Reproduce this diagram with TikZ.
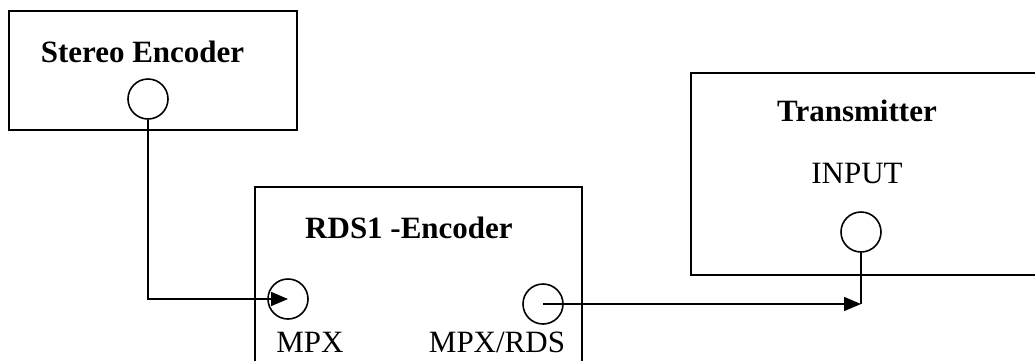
\documentclass[tikz,border=0pt]{standalone}
\usepackage{fontspec}
\setmainfont{Liberation Serif}
\usetikzlibrary{arrows.meta}
\begin{document}
\begin{tikzpicture}[x=0.5pt,y=-0.5pt,
  box/.style={draw,line width=1pt},
  port/.style={draw,circle,line width=0.8pt,minimum size=20pt,inner sep=0pt},
  ttl/.style={anchor=base,inner sep=0pt,font=\fontsize{15.5}{18}\selectfont\bfseries},
  lbl/.style={anchor=base,inner sep=0pt,font=\fontsize{15.5}{18}\selectfont},
  wire/.style={line width=0.8pt},
  arr/.style={line width=0.8pt,-{Triangle[length=8.5pt,width=7pt]}}]
\useasboundingbox (0,0) rectangle (1035,360);
\clip (0,0) rectangle (1035,360);
% boxes
\draw[box] (9,11) rectangle (297,130);
\draw[box] (255,187) rectangle (582,380);
\draw[box] (691,73) rectangle (1050,275);
% titles
\node[ttl] (tse) at (142.5,62) {Stereo Encoder};
\node[ttl] (trds) at (409,238) {RDS1 -Encoder};
\node[ttl] (ttx) at (857,121) {Transmitter};
\node[lbl] (lin) at (857,183) {INPUT};
% ports
\node[port] (se) at (148,99) {};
\node[port] (mpx) at (288,299) {};
\node[port] (mpxrds) at (543,304) {};
\node[port] (in) at (861,232) {};
\node[lbl] (lmpx) at (310,352) {MPX};
\node[lbl] (lmpxrds) at (497,352) {MPX/RDS};
% connectors
\coordinate (tip) at (in.south |- mpxrds.center);
\draw[arr] (se.south) |- (mpx.center);
\draw[arr] (mpxrds.center) -- (tip);
\draw[wire] (tip) -- (in.south);
\end{tikzpicture}
\end{document}
